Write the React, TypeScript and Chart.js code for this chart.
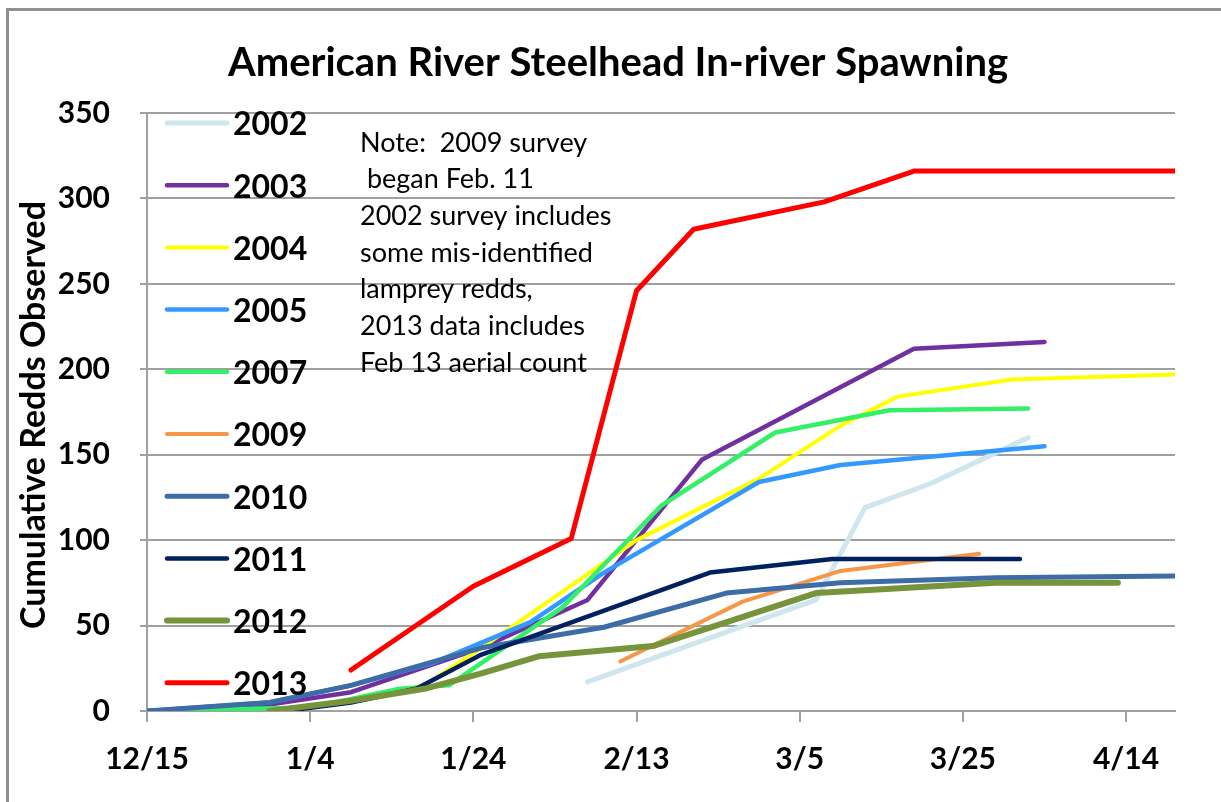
import React, { useEffect, useRef } from "react";
import { Chart, registerables } from "chart.js";

Chart.register(...registerables);

// ---- Data (dates as M/D in the spawning season, values = cumulative redds) ----
const xTickLabels = ["12/15", "1/4", "1/24", "2/13", "3/5", "3/25", "4/14"];
const yTickValues = [0, 50, 100, 150, 200, 250, 300, 350];

const years = ["2002", "2003", "2004", "2005", "2007", "2009", "2010", "2011", "2012", "2013"];

const dates2002 = ["2/7", "3/7", "3/13", "3/21", "4/2"];
const redds2002 = [17, 65, 119, 133, 160];

const dates2003 = ["12/15", "12/29", "1/9", "1/25", "2/7", "2/21", "3/5", "3/19", "4/4"];
const redds2003 = [0, 3, 11, 37, 65, 147, 177, 212, 216];

const dates2004 = ["1/2", "1/18", "1/25", "2/13", "2/28", "3/10", "3/17", "3/31", "4/20"];
const redds2004 = [0, 15, 37, 100, 136, 167, 184, 194, 197];

const dates2005 = ["12/15", "12/30", "1/9", "1/19", "1/25", "1/31", "2/9", "2/28", "3/10", "4/4"];
const redds2005 = [0, 5, 15, 28, 40, 52, 81, 134, 144, 155];

const dates2007 = ["12/15", "1/4", "1/15", "1/21", "2/4", "2/16", "3/2", "3/16", "4/2"];
const redds2007 = [0, 2, 13, 15, 61, 120, 163, 176, 177];

const dates2009 = ["2/11", "2/26", "3/10", "3/27"];
const redds2009 = [29, 64, 82, 92];

const dates2010 = ["12/15", "12/30", "1/9", "1/25", "2/9", "2/24", "3/10", "3/29", "4/20"];
const redds2010 = [0, 5, 15, 37, 49, 69, 75, 78, 79];

const dates2011 = ["1/1", "1/9", "1/17", "1/25", "2/22", "3/9", "4/1"];
const redds2011 = [0, 5, 13, 33, 81, 89, 89];

const dates2012 = ["12/30", "1/9", "1/18", "1/25", "2/1", "2/15", "3/7", "3/29", "4/13"];
const redds2012 = [0, 6, 13, 22, 32, 38, 69, 75, 75];

const dates2013 = ["1/9", "1/24", "2/5", "2/13", "2/20", "3/8", "3/19", "4/20"];
const redds2013 = [24, 73, 101, 246, 282, 298, 316, 316];

const allDates = [dates2002, dates2003, dates2004, dates2005, dates2007, dates2009, dates2010, dates2011, dates2012, dates2013];
const allRedds = [redds2002, redds2003, redds2004, redds2005, redds2007, redds2009, redds2010, redds2011, redds2012, redds2013];

const colors = ["#CFE6EE", "#7030A0", "#FFFF00", "#3399FF", "#33F066", "#F79646", "#3D6CA6", "#002060", "#77933C", "#FF0000"];
const widths = [5, 4.5, 4, 4.5, 4.5, 4, 5, 4.5, 6, 5];

const noteLines = [
  "Note:  2009 survey",
  " began Feb. 11",
  "2002 survey includes",
  "some mis-identified",
  "lamprey redds,",
  "2013 data includes",
  "Feb 13 aerial count",
];

// days after 12/15 (non-leap season)
function dayOffset(md: string): number {
  const [m, d] = md.split("/").map(Number);
  if (m === 12) return d - 15;
  const cum: Record<number, number> = { 1: 16, 2: 47, 3: 75, 4: 106 };
  return cum[m] + d;
}

const FONT = "Lato, 'Liberation Sans', sans-serif";

const textPlugin = {
  id: "textOverlay",
  afterDraw(chart: any) {
    const ctx = chart.ctx as CanvasRenderingContext2D;
    ctx.save();
    ctx.fillStyle = "#000";
    // title
    ctx.font = `bold 40px ${FONT}`;
    ctx.textAlign = "center";
    ctx.textBaseline = "middle";
    ctx.fillText("American River Steelhead In-river Spawning", 618, 63);
    // y title
    ctx.save();
    ctx.translate(34, 415);
    ctx.rotate(-Math.PI / 2);
    ctx.font = `bold 34px ${FONT}`;
    ctx.fillText("Cumulative Redds Observed", 0, 0);
    ctx.restore();
    // note
    ctx.textAlign = "left";
    ctx.font = `27px ${FONT}`;
    noteLines.forEach((t, i) => ctx.fillText(t, 360, 143 + i * 36.67));
    // legend
    ctx.font = `bold 32px ${FONT}`;
    years.forEach((y, i) => {
      const yy = 123 + i * 62.2;
      ctx.beginPath();
      ctx.strokeStyle = colors[i];
      ctx.lineWidth = widths[i];
      ctx.lineCap = "round";
      ctx.moveTo(167, yy);
      ctx.lineTo(227, yy);
      ctx.stroke();
      ctx.fillText(y, 233, yy + 2);
    });
    ctx.restore();
  },
};

export default function App() {
  const ref = useRef<HTMLCanvasElement | null>(null);
  useEffect(() => {
    if (!ref.current) return;
    const datasets = years.map((y, i) => ({
      label: y,
      data: allDates[i].map((d, j) => ({ x: dayOffset(d), y: allRedds[i][j] })),
      borderColor: colors[i],
      backgroundColor: colors[i],
      borderWidth: widths[i],
      pointRadius: 0,
      tension: 0,
      borderCapStyle: "round" as const,
      borderJoinStyle: "round" as const,
      order: years.length - i,
    }));
    const chart = new Chart(ref.current, {
      type: "line",
      data: { datasets },
      options: {
        animation: false,
        responsive: false,
        layout: { padding: { top: 113, right: 46, bottom: 0, left: 0 } },
        plugins: { legend: { display: false }, tooltip: { enabled: false }, title: { display: false } },
        scales: {
          x: {
            type: "linear",
            min: 0,
            max: 126,
            afterFit: (s: any) => { s.height = 91; },
            grid: { drawOnChartArea: false, drawTicks: true, tickLength: 11, color: "#a0a0a0", lineWidth: 2 },
            border: { display: true, color: "#a0a0a0", width: 2 },
            ticks: {
              stepSize: 20,
              includeBounds: false,
              autoSkip: false,
              maxRotation: 0,
              padding: 19,
              color: "#000",
              font: { family: FONT, size: 30, weight: "bold" },
              callback: (v: any) => (Number(v) % 20 === 0 ? xTickLabels[Number(v) / 20] ?? "" : ""),
            },
          },
          y: {
            min: 0,
            max: 350,
            afterFit: (s: any) => { s.width = 147; },
            afterBuildTicks: (s: any) => { s.ticks = yTickValues.map((v) => ({ value: v })); },
            grid: { color: "#a0a0a0", lineWidth: 2, tickLength: 7 },
            border: { display: true, color: "#a0a0a0", width: 2 },
            ticks: {
              padding: 30,
              color: "#000",
              font: { family: FONT, size: 30, weight: "bold" },
            },
          },
        },
      },
      plugins: [textPlugin],
    });
    return () => chart.destroy();
  }, []);
  return (
    <div style={{ position: "absolute", left: 0, top: 0, width: 1221, height: 802, overflow: "hidden", background: "#fff" }}>
      <div style={{ position: "absolute", left: 6, top: 8, width: 1300, height: 900, border: "3px solid #909090" }} />
      <canvas ref={ref} width={1221} height={802} style={{ position: "absolute", left: 0, top: 0 }} />
    </div>
  );
}
